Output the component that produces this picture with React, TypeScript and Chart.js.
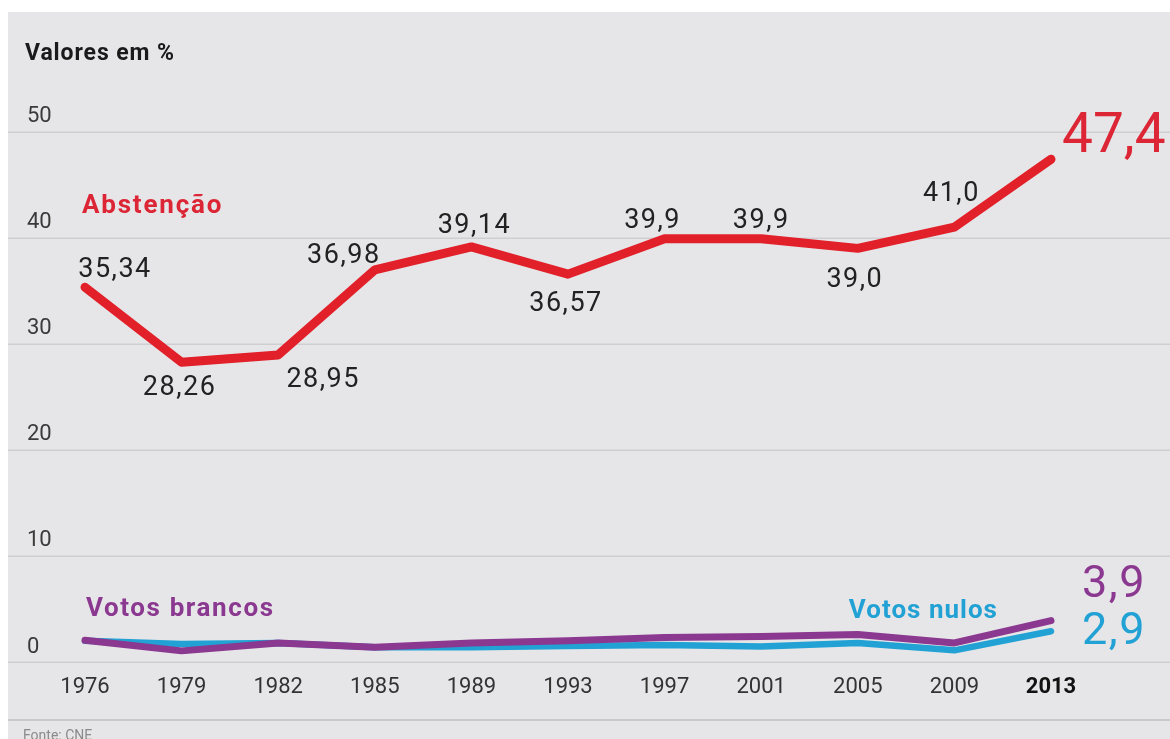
import React, { useEffect, useRef } from 'react';
import { Chart, registerables } from 'chart.js';

Chart.register(...registerables);

// ---------- data ----------
const years = ['1976', '1979', '1982', '1985', '1989', '1993', '1997', '2001', '2005', '2009', '2013'];
const abstencao = [35.34, 28.26, 28.95, 36.98, 39.14, 36.57, 39.9, 39.9, 39.0, 41.0, 47.4];
const abstencaoDecimals = [2, 2, 2, 2, 2, 2, 1, 1, 1, 1, 1];
const votosBrancos = [2.05, 1.05, 1.8, 1.4, 1.8, 2.0, 2.3, 2.4, 2.6, 1.8, 3.9];
const votosNulos = [2.0, 1.7, 1.8, 1.4, 1.4, 1.5, 1.6, 1.45, 1.8, 1.1, 2.9];
const yTickValues = [0, 10, 20, 30, 40, 50];

// ---------- style ----------
const BG = '#e6e6e8';
const GRID = '#cfcfd2';
const RED = '#e2202a';
const RED_TEXT = '#dc2636';
const PURPLE = '#8b3890';
const BLUE = '#22a1d4';
const FONT = 'Roboto, "Noto Sans", sans-serif';

// label placement for abstention values (offset from point, px)
const abstLabelOffsets: [number, number][] = [
  [30, -20], [-2, 23], [45, 22], [-31, -16], [3, -23], [-2, 27],
  [-12, -20], [0, -20], [-3, 29], [-3, -36], [11, -27],
];

const fmt = (v: number, d: number) => v.toFixed(d).replace('.', ',');

function drawText(
  ctx: CanvasRenderingContext2D,
  text: string,
  x: number,
  cy: number,
  size: number,
  weight: string,
  color: string,
  align: CanvasTextAlign,
  spacing = 0
) {
  ctx.save();
  ctx.font = `${weight} ${size}px ${FONT}`;
  ctx.fillStyle = color;
  ctx.textAlign = align;
  ctx.textBaseline = 'alphabetic';
  try {
    (ctx as any).letterSpacing = `${spacing}px`;
  } catch (e) {}
  ctx.fillText(text, x, cy + size * 0.355);
  ctx.restore();
}

const decorPlugin = {
  id: 'decor',
  beforeDatasetsDraw(chart: any) {
    const { ctx, width } = chart;
    const y = chart.scales.y;
    ctx.save();
    ctx.strokeStyle = GRID;
    ctx.lineWidth = 1.5;
    yTickValues.forEach((v) => {
      const py = Math.round(y.getPixelForValue(v)) + 0.25;
      ctx.beginPath();
      ctx.moveTo(0, py);
      ctx.lineTo(width, py);
      ctx.stroke();
    });
    // footer separator
    ctx.strokeStyle = '#c9c9cc';
    ctx.lineWidth = 2;
    ctx.beginPath();
    ctx.moveTo(0, 708);
    ctx.lineTo(width, 708);
    ctx.stroke();
    ctx.restore();
  },
  afterDatasetsDraw(chart: any) {
    const { ctx } = chart;
    const mRed = chart.getDatasetMeta(0).data;
    const mPurple = chart.getDatasetMeta(1).data;
    const mBlue = chart.getDatasetMeta(2).data;

    // abstention value labels
    abstencao.forEach((v, i) => {
      const p = mRed[i];
      const [dx, dy] = abstLabelOffsets[i];
      const last = i === abstencao.length - 1;
      if (last) {
        drawText(ctx, fmt(v, abstencaoDecimals[i]), p.x + dx, p.y + dy, 55, '400', RED_TEXT, 'left', 0);
      } else {
        drawText(ctx, fmt(v, abstencaoDecimals[i]), p.x + dx, p.y + dy, 27, '400', '#222', 'center', 1.5);
      }
    });

    // series names
    drawText(ctx, 'Abstenção', mRed[0].x - 3, mRed[0].y - 83, 26, '700', RED_TEXT, 'left', 1.8);
    drawText(ctx, 'Votos brancos', mPurple[0].x + 1, mPurple[0].y - 33, 26, '700', PURPLE, 'left', 1.6);
    drawText(ctx, 'Votos nulos', mBlue[9].x - 31, mBlue[9].y - 42, 26, '700', BLUE, 'center', 1.0);

    // final values
    const lp = mPurple[mPurple.length - 1];
    const lb = mBlue[mBlue.length - 1];
    drawText(ctx, fmt(votosBrancos[votosBrancos.length - 1], 1), lp.x + 31, lp.y - 40, 45, '400', PURPLE, 'left', 1.5);
    drawText(ctx, fmt(votosNulos[votosNulos.length - 1], 1), lb.x + 31, lb.y - 3, 45, '400', BLUE, 'left', 1.5);

    // title & source
    drawText(ctx, 'Valores em %', 17, 40, 23, '700', '#1a1a1a', 'left', 0.9);
    drawText(ctx, 'Fonte: CNE', 15, 723, 14, '400', '#8a8a8a', 'left', 0);
  },
};

export default function App() {
  const ref = useRef<HTMLCanvasElement | null>(null);

  useEffect(() => {
    if (!ref.current) return;
    const chart = new Chart(ref.current, {
      type: 'line',
      data: {
        labels: years,
        datasets: [
          {
            label: 'Abstenção',
            data: abstencao,
            borderColor: RED,
            borderWidth: 9,
            pointRadius: 0,
            tension: 0,
            borderCapStyle: 'round',
            borderJoinStyle: 'round',
            clip: false as any,
          },
          {
            label: 'Votos brancos',
            data: votosBrancos,
            borderColor: PURPLE,
            borderWidth: 7,
            pointRadius: 0,
            tension: 0,
            borderCapStyle: 'round',
            borderJoinStyle: 'round',
            clip: false as any,
          },
          {
            label: 'Votos nulos',
            data: votosNulos,
            borderColor: BLUE,
            borderWidth: 6.5,
            pointRadius: 0,
            tension: 0,
            borderCapStyle: 'round',
            borderJoinStyle: 'round',
            clip: false as any,
          },
        ],
      },
      options: {
        responsive: false,
        animation: false,
        devicePixelRatio: 1,
        layout: { padding: { left: 19, right: 70.7, top: 119.7, bottom: 0 } },
        plugins: {
          legend: { display: false },
          tooltip: { enabled: false },
          title: { display: false },
        },
        scales: {
          x: {
            type: 'category',
            offset: true,
            grid: { display: false, drawTicks: false },
            border: { display: false },
            ticks: {
              padding: 12,
              color: (c: any) => (c.index === years.length - 1 ? '#111' : '#333'),
              font: (c: any) => ({
                family: FONT,
                size: 22,
                weight: c.index === years.length - 1 ? 'bold' : 'normal',
              }),
              autoSkip: false,
              maxRotation: 0,
            },
            afterFit: (s: any) => {
              s.height = 77;
            },
          },
          y: {
            min: 0,
            max: 50,
            grid: { display: false, drawTicks: false },
            border: { display: false },
            ticks: {
              stepSize: 10,
              mirror: true,
              crossAlign: 'near',
              padding: -9.7,
              labelOffset: -15,
              color: '#3a3a3a',
              font: { family: FONT, size: 22 },
            },
            afterFit: (s: any) => {
              s.width = 9.7;
            },
          },
        },
      },
      plugins: [decorPlugin],
    });
    return () => chart.destroy();
  }, []);

  return (
    <div
      style={{
        position: 'absolute',
        left: 8,
        top: 12,
        width: 1162,
        height: 727,
        background: BG,
        overflow: 'hidden',
      }}
    >
      <canvas ref={ref} width={1162} height={727} style={{ display: 'block' }} />
    </div>
  );
}
